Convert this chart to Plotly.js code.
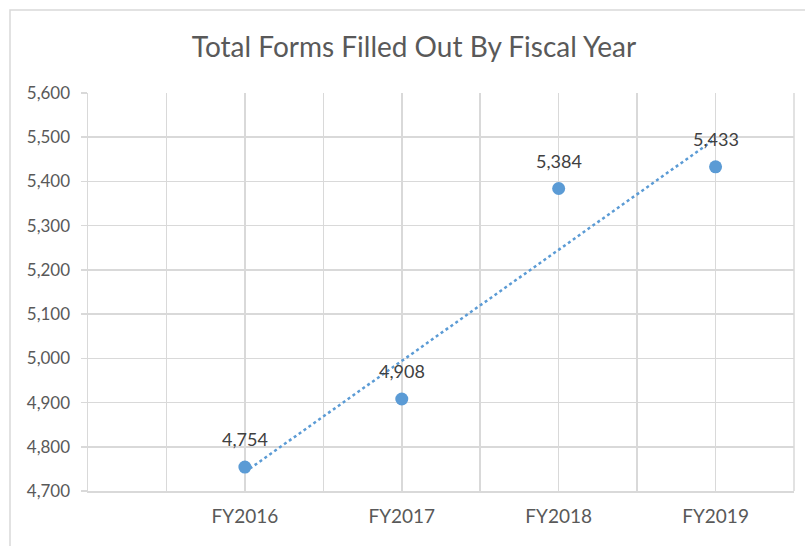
<!DOCTYPE html>
<html>
<head>
<meta charset="utf-8">
<script src="https://cdn.plot.ly/plotly-3.0.1.min.js"></script>
<style>
  html, body { margin: 0; padding: 0; background: #ffffff; }
  #chart { width: 805px; height: 546px; }
</style>
</head>
<body>
<div id="chart"></div>
<script>
// ---- data ----
const categories = ["FY2016", "FY2017", "FY2018", "FY2019"];
const formsFilled = [4754, 4908, 5384, 5433];
const yTickValues = [4700, 4800, 4900, 5000, 5100, 5200, 5300, 5400, 5500, 5600];

// category positions 1..n on a linear axis (Excel-style)
const xPos = categories.map((_, i) => i + 1);

// linear trendline (least squares) from the data
const n = xPos.length;
const mx = xPos.reduce((a, b) => a + b, 0) / n;
const my = formsFilled.reduce((a, b) => a + b, 0) / n;
let sxy = 0, sxx = 0;
for (let i = 0; i < n; i++) {
  sxy += (xPos[i] - mx) * (formsFilled[i] - my);
  sxx += (xPos[i] - mx) * (xPos[i] - mx);
}
const slope = sxy / sxx;
const intercept = my - slope * mx;
const trendX = [xPos[0], xPos[n - 1]];
const trendY = trendX.map(x => intercept + slope * x);

const FONT = "Lato, 'Open Sans', sans-serif";
const BLUE = "#5b9bd5";
const GRID = "#d9d9d9";

const fmt = v => v.toLocaleString("en-US");

const traces = [
  {
    x: trendX, y: trendY, type: "scatter", mode: "lines",
    line: { color: BLUE, width: 2.5, dash: "dot" },
    hoverinfo: "skip", showlegend: false
  },
  {
    x: xPos, y: formsFilled, type: "scatter", mode: "markers",
    marker: { color: BLUE, size: 13 },
    showlegend: false
  }
];

const annotations = xPos.map((x, i) => ({
  x: x, y: formsFilled[i], xref: "x", yref: "y",
  text: fmt(formsFilled[i]), showarrow: false, yshift: 28,
  font: { family: FONT, size: 18, color: "#404040" }
}));

// plot geometry for chart frame
const W = 805, H = 546, L = 88, R = 11, T = 93, B = 55;
const pw = W - L - R, ph = H - T - B;
const px = p => (p - L) / pw;
const py = p => (H - B - p) / ph;

const layout = {
  width: W, height: H,
  margin: { l: L, r: R, t: T, b: B },
  paper_bgcolor: "#ffffff", plot_bgcolor: "#ffffff",
  title: {
    text: "Total Forms Filled Out By Fiscal Year",
    font: { family: FONT, size: 28, color: "#595959" },
    x: 414 / W, xanchor: "center", xref: "container",
    y: 1 - 47 / H, yanchor: "middle", yref: "container"
  },
  xaxis: {
    range: [0, categories.length + 0.5],
    tickmode: "array", tickvals: xPos, ticktext: categories,
    showgrid: true, gridcolor: GRID, gridwidth: 1.5,
    minor: { tick0: 0.5, dtick: 1, showgrid: true, gridcolor: GRID, gridwidth: 1.5 },
    zeroline: false, showline: true, linecolor: GRID, linewidth: 1.5,
    ticks: "", ticklabelstandoff: 8,
    tickfont: { family: FONT, size: 19, color: "#595959" },
    fixedrange: true
  },
  yaxis: {
    range: [4700, 5600],
    tickmode: "array", tickvals: yTickValues, ticktext: yTickValues.map(fmt),
    showgrid: true, gridcolor: GRID, gridwidth: 1.5,
    zeroline: false, showline: true, linecolor: GRID, linewidth: 1.5,
    ticks: "outside", ticklen: 6, tickcolor: GRID, tickwidth: 1.5,
    ticklabelstandoff: 7,
    tickfont: { family: FONT, size: 17, color: "#595959" },
    fixedrange: true
  },
  shapes: [
    {
      type: "path", xref: "paper", yref: "paper",
      path: `M ${px(10)} ${py(H + 5)} L ${px(10)} ${py(10)} L ${px(W + 5)} ${py(10)}`,
      line: { color: GRID, width: 1.5 }
    },
    {
      type: "line", xref: "paper", yref: "paper",
      x0: 1, x1: 1, y0: 0, y1: 1,
      line: { color: GRID, width: 1.5 }
    }
  ],
  annotations: annotations,
  showlegend: false,
  hovermode: false
};

Plotly.newPlot("chart", traces, layout, { displayModeBar: false, staticPlot: true });
</script>
</body>
</html>
